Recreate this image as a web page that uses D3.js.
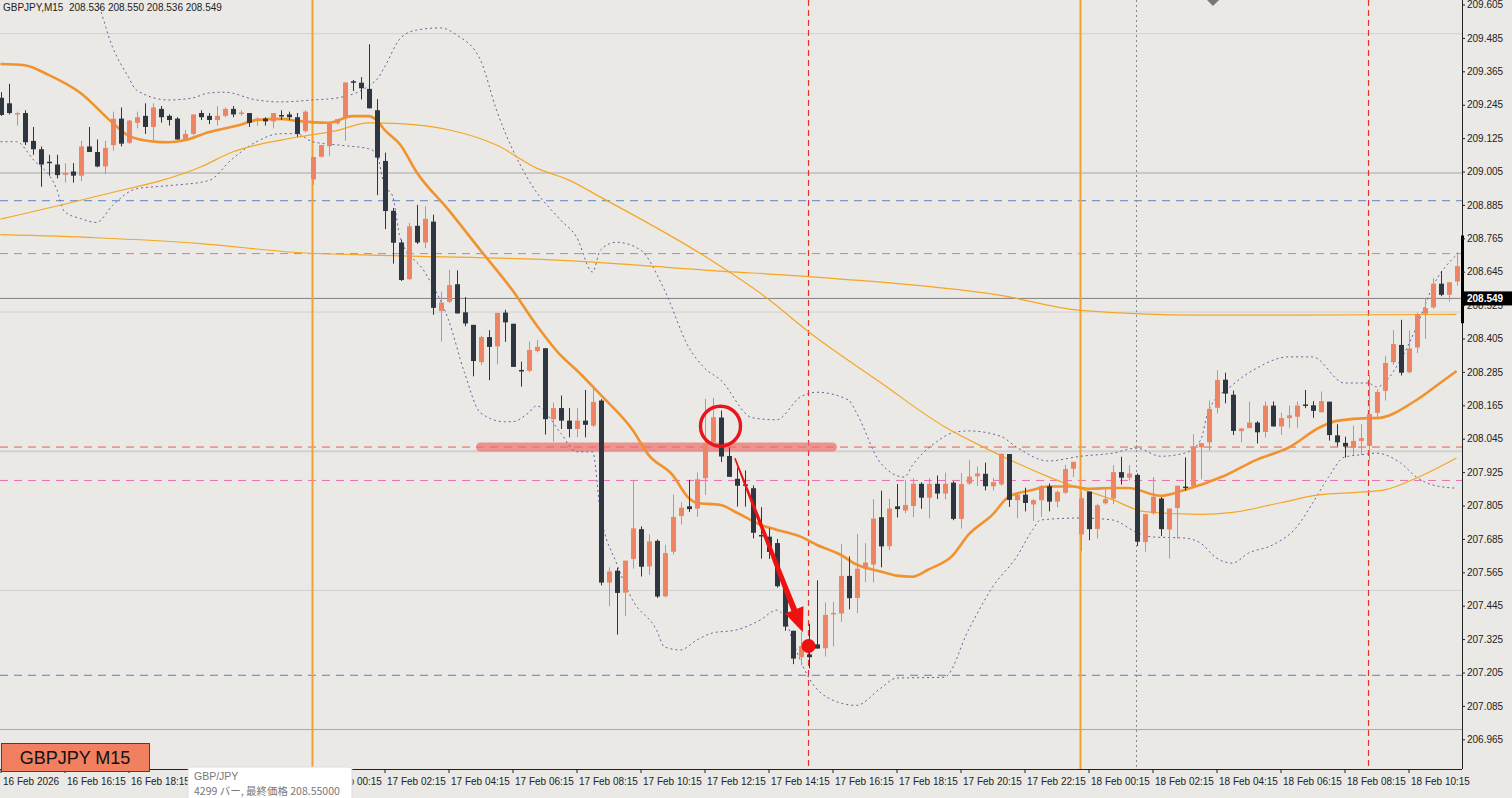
<!DOCTYPE html>
<html><head><meta charset="utf-8">
<script src="https://cdn.jsdelivr.net/npm/d3@7/dist/d3.min.js"></script>
<style>html,body{margin:0;padding:0;background:#ebe9e5;overflow:hidden}</style>
</head><body>
<svg id="c" width="1512" height="798"></svg>
<script>
// OHLC, one row per 15-minute bar [open, high, low, close]
const candles = [
[209.27,209.29,209.205,209.208],[209.25,209.32,209.21,209.215],[209.21,209.22,209.17,209.215],[209.215,209.225,209.10,209.11],
[209.115,209.165,209.065,209.085],[209.085,209.095,208.95,209.03],[209.04,209.065,208.99,209.035],[209.03,209.065,208.98,208.992],
[208.993,209.035,208.965,209.0],[209.005,209.035,208.965,208.99],[208.99,209.115,208.97,209.095],[209.095,209.165,209.075,209.075],
[209.075,209.12,209.02,209.023],[209.023,209.115,208.995,209.09],[209.10,209.22,209.08,209.195],[209.195,209.235,209.095,209.105],
[209.108,209.19,209.103,209.188],[209.18,209.22,209.16,209.20],[209.205,209.25,209.14,209.165],[209.165,209.25,209.115,209.235],
[209.23,209.24,209.18,209.20],[209.205,209.21,209.17,209.19],[209.195,209.20,209.12,209.12],[209.12,209.155,209.118,209.14],
[209.14,209.21,209.135,209.21],[209.215,209.225,209.19,209.20],[209.205,209.215,209.175,209.19],[209.19,209.24,209.17,209.205],
[209.205,209.235,209.2,209.23],[209.23,209.24,209.2,209.21],[209.213,209.225,209.205,209.217],[209.215,209.215,209.165,209.18],
[209.19,209.2,209.17,209.195],[209.195,209.2,209.17,209.185],[209.185,209.215,209.16,209.215],[209.208,209.225,209.19,209.205],
[209.21,209.22,209.19,209.20],[209.20,209.215,209.13,209.14],[209.15,209.225,209.145,209.22],[208.977,209.057,208.957,209.057],
[209.058,209.10,209.055,209.10],[209.096,209.176,209.061,209.176],[209.178,209.193,209.173,209.193],[209.20,209.325,209.115,209.325],
[209.329,209.334,209.294,209.324],[209.324,209.344,209.264,209.304],[209.302,209.462,209.232,209.232],[209.225,209.265,208.92,209.055],
[209.043,209.073,208.798,208.863],[208.864,208.874,208.674,208.749],[208.75,208.76,208.612,208.615],[208.618,208.82,208.615,208.808],
[208.81,208.885,208.745,208.75],[208.75,208.88,208.73,208.835],[208.825,208.85,208.49,208.515],[208.504,208.574,208.394,208.534],
[208.537,208.652,208.532,208.597],[208.60,208.65,208.495,208.495],[208.499,208.554,208.449,208.459],[208.454,208.454,208.269,208.324],
[208.32,208.415,208.31,208.41],[208.41,208.435,208.255,208.375],[208.377,208.497,208.312,208.497],[208.498,208.508,208.393,208.463],
[208.458,208.458,208.303,208.303],[208.292,208.322,208.232,208.287],[208.289,208.394,208.284,208.364],[208.36,208.40,208.355,208.375],
[208.37,208.37,208.06,208.115],[208.115,208.175,208.035,208.155],[208.155,208.20,208.08,208.11],[208.11,208.155,208.05,208.08],
[208.08,208.155,208.05,208.11],[208.11,208.22,208.05,208.095],[208.092,208.227,208.087,208.177],[208.182,208.187,207.518,207.528],
[207.528,207.583,207.443,207.568],[207.571,207.581,207.341,207.491],[207.492,207.607,207.407,207.607],[207.613,207.893,207.578,207.723],
[207.72,207.73,207.55,207.585],[207.586,207.701,207.556,207.676],[207.678,207.683,207.473,207.478],[207.479,207.664,207.474,207.634],
[207.639,207.844,207.629,207.764],[207.767,207.817,207.737,207.797],[207.802,207.897,207.782,207.792],[207.794,207.924,207.764,207.899],
[207.903,208.188,207.843,208.028],[208.032,208.192,208.027,208.122],[208.121,208.146,207.961,207.981],[207.983,208.013,207.908,207.908],
[207.901,207.941,207.801,207.876],[207.881,207.931,207.801,207.876],[207.867,207.877,207.687,207.707],[207.699,207.799,207.614,207.694],
[207.693,207.723,207.613,207.638],[207.67,207.685,207.51,207.515],[207.51,207.515,207.355,207.37],[207.355,207.355,207.235,207.255],
[207.26,207.35,207.23,207.30],[207.27,207.38,207.22,207.26],[207.306,207.536,207.291,207.291],[207.292,207.457,207.262,207.412],
[207.414,207.459,207.299,207.419],[207.417,207.667,207.387,207.552],[207.552,207.622,207.432,207.472],[207.473,207.703,207.418,207.578],
[207.58,207.67,207.53,207.60],[207.593,207.828,207.528,207.758],[207.763,207.858,207.583,207.658],[207.659,207.829,207.644,207.794],
[207.802,207.882,207.762,207.792],[207.787,207.897,207.777,207.807],[207.803,207.903,207.763,207.883],[207.883,207.888,207.793,207.833],
[207.833,207.903,207.758,207.883],[207.883,207.913,207.828,207.848],[207.848,207.923,207.828,207.883],[207.887,207.892,207.752,207.757],
[207.757,207.922,207.722,207.882],[207.884,207.969,207.879,207.909],[207.91,207.945,207.875,207.92],[207.919,207.959,207.859,207.874],
[207.874,207.904,207.859,207.889],[207.881,207.991,207.876,207.991],[207.99,207.99,207.80,207.825],[207.824,207.849,207.759,207.844],
[207.844,207.869,207.784,207.814],[207.809,207.829,207.749,207.824],[207.824,207.879,207.764,207.874],[207.874,207.884,207.784,207.819],
[207.819,207.859,207.799,207.854],[207.851,207.951,207.846,207.936],[207.937,207.962,207.907,207.962],[207.701,207.856,207.641,207.831],
[207.855,207.855,207.68,207.72],[207.721,207.811,207.686,207.806],[207.813,207.863,207.808,207.828],[207.83,207.95,207.81,207.925],
[207.925,207.98,207.88,207.905],[207.905,207.95,207.895,207.92],[207.915,207.92,207.66,207.675],[207.674,207.774,207.639,207.774],
[207.777,207.907,207.772,207.837],[207.83,207.835,207.695,207.72],[207.719,207.794,207.614,207.794],[207.796,207.876,207.686,207.876],
[207.873,207.978,207.858,207.868],[207.876,208.061,207.871,208.016],[208.014,208.029,207.899,208.029],[208.032,208.182,208.002,208.152],
[208.156,208.291,208.136,208.256],[208.257,208.282,208.172,208.207],[208.203,208.218,208.058,208.073],[208.072,208.082,208.032,208.082],
[208.083,208.178,208.083,208.103],[208.103,208.108,208.028,208.068],[208.069,208.179,208.049,208.164],[208.164,208.179,208.089,208.089],
[208.089,208.139,208.059,208.119],[208.119,208.164,208.084,208.129],[208.124,208.179,208.084,208.164],[208.168,208.22,208.155,208.165],
[208.165,208.18,208.12,208.145],[208.14,208.215,208.14,208.18],[208.178,208.178,208.038,208.058],[208.057,208.097,208.017,208.032],
[208.03,208.052,207.977,208.017],[208.012,208.092,207.987,208.037],[208.037,208.097,207.987,208.047],[208.019,208.274,207.964,208.134],
[208.138,208.223,208.123,208.213],[208.217,208.342,208.182,208.317],[208.32,208.435,208.31,208.385],[208.382,208.472,208.272,208.282],
[208.284,208.434,208.279,208.369],[208.373,208.498,208.353,208.493],[208.494,208.549,208.404,208.514],[208.517,208.622,208.512,208.602],
[208.602,208.647,208.557,208.562],[208.562,208.607,208.537,208.607],[208.61,208.715,208.595,208.665]
];

// indicator readings: [bar index, price]
const maFast = [[0,209.391],[3,209.387],[6,209.352],[10,209.287],[14,209.18],[16,209.134],[19,209.113],[21,209.11],[23,209.117],[26,209.146],[30,209.173],[32,209.19],[35,209.194],[37,209.187],[41,209.18],[44,209.204],[46,209.204],[47,209.19],[48,209.155],[50,209.1],[52,209.003],[56,208.867],[60,208.722],[64,208.578],[67,208.453],[70,208.345],[72,208.292],[75,208.203],[79,208.077],[81,207.987],[84,207.915],[86,207.833],[87,207.815],[90,207.807],[92,207.78],[95,207.736],[97,207.718],[100,207.693],[102,207.664],[105,207.628],[107,207.593],[110,207.568],[112,207.553],[114,207.549],[116,207.575],[119,207.625],[121,207.7],[124,207.772],[126,207.836],[129,207.861],[131,207.873],[134,207.873],[136,207.865],[139,207.868],[141,207.868],[145,207.84],[148,207.861],[153,207.912],[157,207.969],[161,208.013],[165,208.087],[167,208.109],[171,208.119],[172,208.119],[177,208.184],[180,208.246],[182,208.288]];
const maMid = [[0,208.834],[12,208.916],[25,209.021],[29,209.075],[37,209.128],[42,209.152],[46,209.18],[50,209.177],[56,209.155],[62,209.1],[67,209.017],[71,208.975],[75,208.913],[88,208.701],[96,208.546],[101,208.429],[110,208.247],[118,208.088],[123,208.013],[131,207.908],[139,207.826],[143,207.783],[150,207.773],[154,207.78],[160,207.815],[165,207.844],[169,207.851],[173,207.861],[177,207.904],[182,207.976]];
const maSlow = [[0,208.778],[12,208.767],[25,208.746],[37,208.714],[49,208.703],[71,208.685],[88,208.651],[104,208.621],[125,208.56],[135,208.506],[150,208.489],[162,208.489],[182,208.492]];
const bbUpper = [[10,209.698],[12,209.622],[14,209.452],[16,209.344],[17,209.297],[21,209.262],[24,209.269],[26,209.287],[28,209.29],[32,209.262],[35,209.255],[39,209.262],[42,209.269],[47,209.334],[48,209.38],[50,209.484],[52,209.513],[55,209.521],[57,209.496],[60,209.405],[62,209.226],[66,208.975],[70,208.831],[72,208.77],[74,208.644],[75,208.723],[77,208.751],[80,208.723],[83,208.579],[86,208.375],[88,208.299],[90,208.256],[94,208.12],[97,208.113],[100,208.195],[102,208.212],[106,208.184],[107,208.138],[110,207.958],[113,207.907],[114,207.95],[117,208.034],[119,208.066],[121,208.073],[125,208.054],[127,208.015],[131,207.965],[135,207.982],[139,207.993],[142,208.011],[145,207.982],[148,207.993],[150,208.039],[151,208.147],[154,208.238],[157,208.298],[161,208.339],[164,208.339],[168,208.245],[171,208.245],[172,208.231],[175,208.328],[177,208.446],[179,208.59],[182,208.705]];
const bbLower = [[0,209.112],[2,209.112],[4,209.051],[7,208.943],[8,208.861],[10,208.836],[12,208.822],[14,208.883],[17,208.943],[21,208.954],[26,208.972],[29,209.051],[32,209.112],[35,209.141],[37,209.141],[39,209.112],[43,209.098],[46,209.087],[47,209.069],[48,208.954],[49,208.918],[50,208.763],[53,208.645],[56,208.472],[58,208.282],[60,208.138],[63,208.106],[64,208.106],[66,208.138],[67,208.163],[70,208.066],[72,207.998],[74,207.998],[75,207.778],[77,207.598],[79,207.466],[82,207.358],[83,207.297],[85,207.286],[87,207.321],[89,207.347],[92,207.358],[95,207.394],[97,207.429],[98,207.405],[99,207.321],[101,207.188],[104,207.106],[107,207.087],[110,207.148],[112,207.185],[118,207.188],[121,207.358],[124,207.512],[127,207.62],[129,207.717],[130,207.753],[135,207.76],[139,207.753],[142,207.709],[144,207.692],[148,207.688],[150,207.67],[152,207.616],[154,207.598],[156,207.634],[159,207.663],[162,207.727],[164,207.813],[166,207.907],[168,207.979],[170,207.987],[172,207.993],[175,207.958],[177,207.907],[179,207.879],[182,207.867]];

const priceTicks = [209.605,209.485,209.365,209.245,209.125,209.005,208.885,208.765,208.645,208.525,208.405,208.285,208.165,208.045,207.925,207.805,207.685,207.565,207.445,207.325,207.205,207.085,206.965];
const timeTicks = [0,8,16,24,32,40,48,56,64,72,80,88,96,104,112,120,128,136,144,152,160,168,176];
const timeLabels = ["16 Feb 2026","16 Feb 16:15","16 Feb 18:15","16 Feb 20:15","16 Feb 22:15","17 Feb 00:15","17 Feb 02:15","17 Feb 04:15","17 Feb 06:15","17 Feb 08:15","17 Feb 10:15","17 Feb 12:15","17 Feb 14:15","17 Feb 16:15","17 Feb 18:15","17 Feb 20:15","17 Feb 22:15","18 Feb 00:15","18 Feb 02:15","18 Feb 04:15","18 Feb 06:15","18 Feb 08:15","18 Feb 10:15"];
const hiddenUnderTooltip = [24,32];
const gridLevels = [209.5,209.0,208.5,208.0,207.5,207.0];
const blueLevels = [208.90,207.195];
const pinkLevels = [208.71,207.895];
const redLevel = 208.015;
const lastPrice = 208.549;
const dayLines = [39,135];
const redVLines = [101,171];
const grayVLines = [142];
const zone = {from:60,to:104,price:208.015};
const circleAt = [90,208.09];
const arrowFrom = [91.8,207.975], arrowTo = [100.3,207.35];
const dotAt = [101,207.30];

const W=1512,H=798, plotR=1462, plotB=769;
const x = d3.scaleLinear().domain([0,1]).range([0.5,8.5]);
const y = d3.scaleLinear().domain([208.765,207.565]).range([238.3,572.3]);
const svg = d3.select('#c');
const g = svg.append('g');
g.append('rect').attr('width',W).attr('height',H).attr('fill','#ebe9e5');

const hl=(p,col,dash,w)=>g.append('line').attr('x1',0).attr('x2',plotR).attr('y1',y(p)).attr('y2',y(p)).attr('stroke',col).attr('stroke-width',w||1).attr('stroke-dasharray',dash||null);
gridLevels.forEach((p,i)=>hl(p,i===1?'#c8c8c8':(i===5?'#a8a8a8':'#d0d0d0'),null,i===1||i===3?2:1));
blueLevels.forEach(p=>hl(p,'#5b84c4','8,6'));
pinkLevels.forEach(p=>hl(p,'#ea6fb0','8,6'));
hl(redLevel,'#e06050','8,6');
hl(lastPrice,'#808080',null,1);

const vl=(i,col,dash,w)=>g.append('line').attr('x1',x(i)).attr('x2',x(i)).attr('y1',0).attr('y2',plotB).attr('stroke',col).attr('stroke-width',w||1).attr('stroke-dasharray',dash||null);
dayLines.forEach(i=>vl(i,'#f5a030',null,2));
redVLines.forEach(i=>vl(i,'#e8302a','6,4',1.2));
grayVLines.forEach(i=>vl(i,'#888','2,3',1));

g.append('line').attr('x1',x(zone.from)).attr('x2',x(zone.to)).attr('y1',y(zone.price)).attr('y2',y(zone.price))
 .attr('stroke','#ec6e6e').attr('stroke-opacity',0.7).attr('stroke-width',9).attr('stroke-linecap','round');

const line = d3.line().x(d=>x(d[0])).y(d=>y(d[1])).curve(d3.curveMonotoneX);
svg.append('defs').append('clipPath').attr('id','pc').append('rect').attr('width',plotR).attr('height',plotB);
const ind = g.append('g').attr('clip-path','url(#pc)');
ind.append('path').attr('d',line(bbUpper)).attr('fill','none').attr('stroke','#6a5e9e').attr('stroke-dasharray','2,3').attr('stroke-width',1);
ind.append('path').attr('d',line(bbLower)).attr('fill','none').attr('stroke','#6a5e9e').attr('stroke-dasharray','2,3').attr('stroke-width',1);
ind.append('path').attr('d',line(maSlow)).attr('fill','none').attr('stroke','#f5a623').attr('stroke-width',1.2);
ind.append('path').attr('d',line(maMid)).attr('fill','none').attr('stroke','#f5a623').attr('stroke-width',1.2);

const up='#ef8462', dn='#2e3640';
const cg = g.append('g');
candles.forEach((c,i)=>{
  const [o,h,l,cl]=c; const col = cl>=o?up:dn; const cx=Math.round(x(i))+0.5;
  cg.append('line').attr('x1',cx).attr('x2',cx).attr('y1',y(h)).attr('y2',y(l)).attr('stroke',col).attr('stroke-width',1);
  const top=y(Math.max(o,cl)), bot=y(Math.min(o,cl));
  cg.append('rect').attr('x',cx-2.5).attr('width',5).attr('y',top).attr('height',Math.max(1.5,bot-top)).attr('fill',col);
});
ind.append('path').attr('d',line(maFast)).attr('fill','none').attr('stroke','#f0922e').attr('stroke-width',2.6);

// annotations
g.append('circle').attr('cx',x(circleAt[0])).attr('cy',y(circleAt[1])).attr('r',20).attr('fill','none').attr('stroke','#e8161c').attr('stroke-width',3.4);
const ax1=x(arrowFrom[0]), ay1=y(arrowFrom[1]), ax2=x(arrowTo[0]), ay2=y(arrowTo[1]);
const ang=Math.atan2(ay2-ay1,ax2-ax1), nx=-Math.sin(ang), ny=Math.cos(ang);
const headL=24, headW=10;
const bx=ax2-headL*Math.cos(ang), by=ay2-headL*Math.sin(ang);
g.append('path').attr('d',`M${ax1+nx*0.8},${ay1+ny*0.8}L${bx+nx*3},${by+ny*3}L${bx+nx*headW},${by+ny*headW}L${ax2},${ay2}L${bx-nx*headW},${by-ny*headW}L${bx-nx*3},${by-ny*3}L${ax1-nx*0.8},${ay1-ny*0.8}Z`).attr('fill','#ee1111');
g.append('circle').attr('cx',x(dotAt[0])).attr('cy',y(dotAt[1])).attr('r',7).attr('fill','#ee1111');

// price axis
g.append('line').attr('x1',plotR+0.5).attr('x2',plotR+0.5).attr('y1',0).attr('y2',plotB).attr('stroke','#222');
g.append('line').attr('x1',plotR+0.5).attr('x2',plotR+0.5).attr('y1',y(208.775)).attr('y2',y(208.46)).attr('stroke','#000').attr('stroke-width',3);
const axR = g.append('g').attr('transform',`translate(${plotR},0)`)
 .call(d3.axisRight(y).tickValues(priceTicks).tickFormat(d3.format('.3f')).tickSize(3));
axR.select('.domain').remove();
axR.selectAll('text').attr('font-family','Liberation Sans, Arial').attr('font-size','10px').attr('fill','#222').attr('x',5);
axR.selectAll('line').attr('stroke','#222');
g.append('rect').attr('x',plotR+1).attr('y',y(lastPrice)-7).attr('width',W-plotR-1).attr('height',14).attr('fill','#000');
g.append('text').attr('x',plotR+5).attr('y',y(lastPrice)+4).text(lastPrice.toFixed(3)).attr('fill','#fff').attr('font-family','Liberation Sans, Arial').attr('font-size','10px').attr('font-weight','bold');

// time axis
g.append('line').attr('x1',0).attr('x2',plotR).attr('y1',plotB+0.5).attr('y2',plotB+0.5).attr('stroke','#222');
const axB = g.append('g').attr('transform',`translate(0,${plotB})`)
 .call(d3.axisBottom(x).tickValues(timeTicks).tickFormat((d,i)=>hiddenUnderTooltip.includes(d)?'':timeLabels[i]).tickSize(4));
axB.select('.domain').remove();
axB.selectAll('line').attr('stroke','#222');
axB.selectAll('text').attr('font-family','Liberation Sans, Arial').attr('font-size','10px').attr('fill','#222').attr('text-anchor','start').attr('x',2).attr('dy','0.9em');

g.append('text').attr('x',3).attr('y',11).text('GBPJPY,M15  208.536 208.550 208.536 208.549').attr('font-family','Liberation Sans, Arial').attr('font-size','10px').attr('fill','#222').attr('xml:space','preserve');
g.append('path').attr('d','M1207,0L1213,6L1219,0Z').attr('fill','#777');

g.append('rect').attr('x',1.5).attr('y',743.5).attr('width',148).attr('height',28).attr('fill','#f08060').attr('stroke','#444');
g.append('text').attr('x',75).attr('y',764).attr('text-anchor','middle').text('GBPJPY M15').attr('font-family','Liberation Sans, Arial').attr('font-size','18px').attr('fill','#111');

// tooltip (covers part of the time axis, as in the screenshot)
g.append('rect').attr('x',188).attr('y',767).attr('width',164).attr('height',36).attr('rx',3).attr('fill','#fff').attr('stroke','#ddd');
g.append('text').attr('x',194).attr('y',780).text('GBP/JPY').attr('font-family','Liberation Sans, Arial').attr('font-size','10.5px').attr('fill','#777');
g.append('text').attr('x',194).attr('y',795).text('4299 バー, 最終価格 208.55000').attr('font-family','Noto Sans CJK JP, Liberation Sans').attr('font-size','10.5px').attr('fill','#777');
</script>
</body></html>
